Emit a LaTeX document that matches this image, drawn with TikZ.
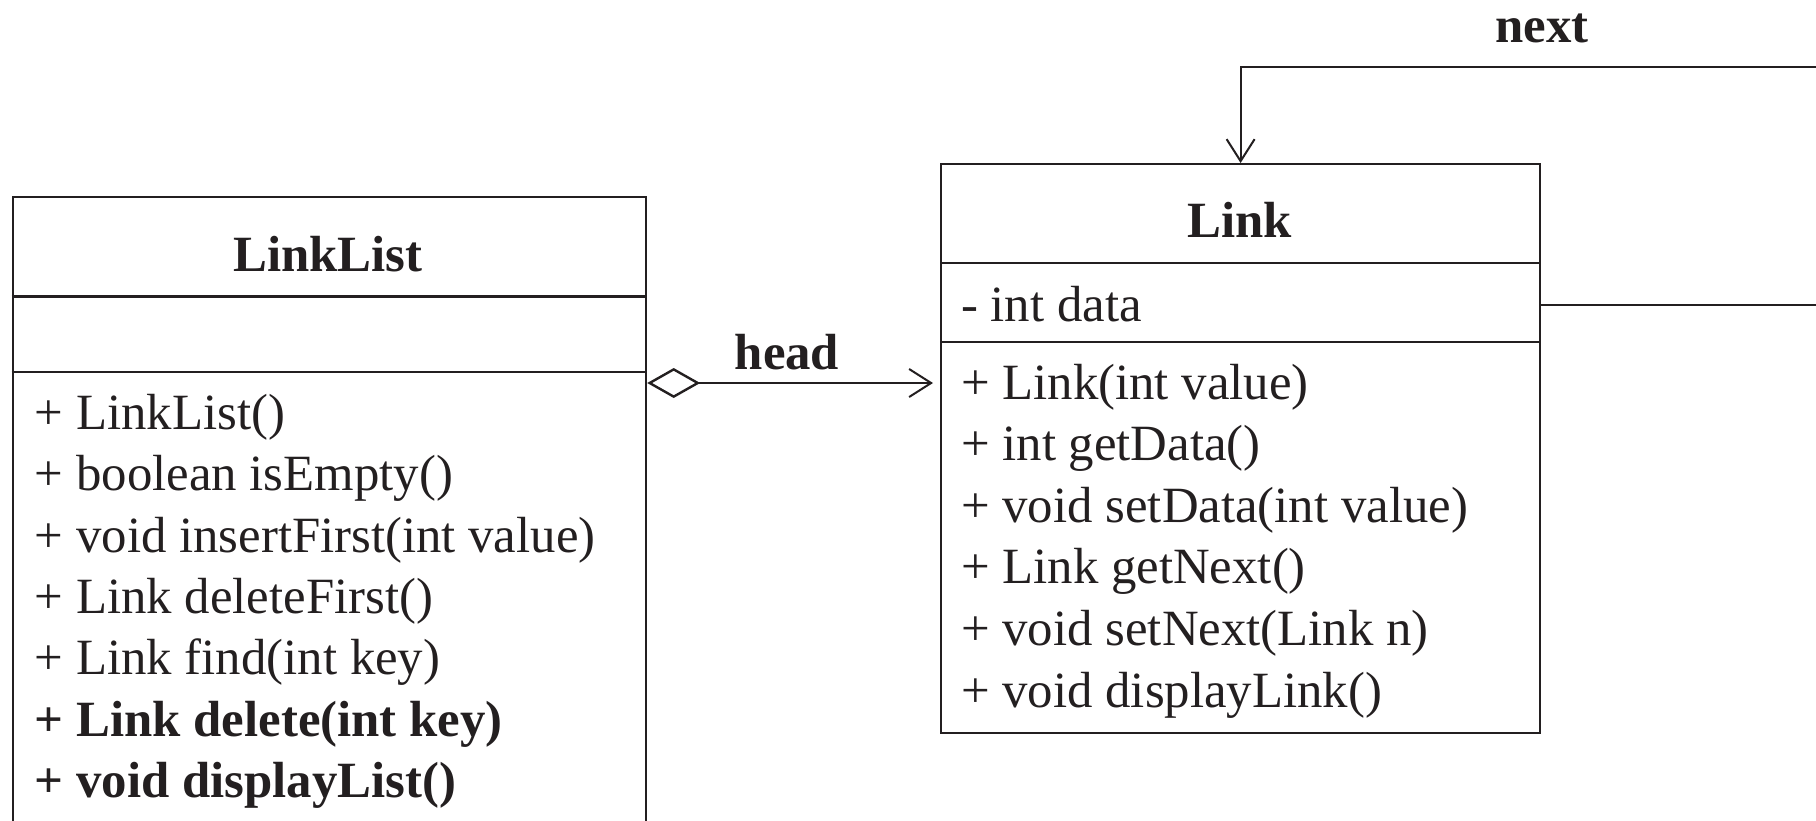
\documentclass[tikz,border=0pt]{standalone}
\usepackage{fontspec}
\setmainfont{Liberation Serif}
\usetikzlibrary{arrows.meta}
\definecolor{ink}{HTML}{231F20}
\begin{document}
\begin{tikzpicture}[x=1pt,y=-1pt,
  every node/.style={font=\fontsize{50.8}{60}\selectfont, text=ink, inner sep=0pt},
  classbox/.style={draw=ink, line width=2.2pt, anchor=north west, inner sep=0pt},
  divider/.style={draw=ink, line width=2.2pt},
  row/.style={anchor=base west},
  ttl/.style={anchor=base, font=\fontsize{50.8}{60}\selectfont\bfseries},
  conn/.style={draw=ink, line width=2pt},
  agg/.style={conn, {Diamond[open, length=53pt, width=30pt, line width=2.4pt]}-{Straight Barb[length=22pt, width=28pt, line width=2pt]}, shorten >=7pt},
  assoc/.style={conn, -{Straight Barb[length=22pt, width=28pt, line width=2pt]}}
]
\useasboundingbox (0,0) rectangle (1816,820);
\clip (0,0) rectangle (1816,820);

% LinkList class
\node[classbox, minimum width=633.4pt, minimum height=660pt] (ll) at (11.6,195.7) {};
\coordinate (lld1) at (0,296.5);
\coordinate (lld2) at (0,371.7);
\draw[divider] (ll.west |- lld1) -- (ll.east |- lld1);
\draw[divider] (ll.west |- lld2) -- (ll.east |- lld2);
\node[ttl] (lltitle) at (328,271) {LinkList};
\node[row] (ll1) at (34.7,429) {+ LinkList()};
\node[row] (ll2) at (34.7,490.5) {+ boolean isEmpty()};
\node[row] (ll3) at (34.7,552) {+ void insertFirst(int value)};
\node[row] (ll4) at (34.7,613.4) {+ Link deleteFirst()};
\node[row] (ll5) at (34.7,674.8) {+ Link find(int key)};
\node[row, font=\fontsize{50.8}{60}\selectfont\bfseries] (ll6) at (34.7,736.2) {+ Link delete(int key)};
\node[row, font=\fontsize{50.8}{60}\selectfont\bfseries] (ll7) at (34.7,797.6) {+ void displayList()};

% Link class
\node[classbox, minimum width=599pt, minimum height=569pt] (lk) at (940,163) {};
\coordinate (lkd1) at (0,263);
\coordinate (lkd2) at (0,341.6);
\draw[divider] (lk.west |- lkd1) -- (lk.east |- lkd1);
\draw[divider] (lk.west |- lkd2) -- (lk.east |- lkd2);
\node[ttl] (lktitle) at (1239.5,237) {Link};
\node[row] (lka) at (961,321.5) {- int data};
\node[row] (lk1) at (961,399) {+ Link(int value)};
\node[row] (lk2) at (961,460.6) {+ int getData()};
\node[row] (lk3) at (961,522.2) {+ void setData(int value)};
\node[row] (lk4) at (961,583.8) {+ Link getNext()};
\node[row] (lk5) at (961,645.4) {+ void setNext(Link n)};
\node[row] (lk6) at (961,707) {+ void displayLink()};

% head aggregation
\coordinate (hy) at (0,383);
\draw[agg] (ll.east |- hy) -- (lk.west |- hy);
\node[ttl] (head) at (787,369) {head};

% next self association
\coordinate (r1) at (1840,304.5);
\coordinate (r2) at (1840,67);
\draw[assoc] (lk.east |- r1) -- (r1) -- (r2) -- (lk.north |- r2) -- (lk.north);
\node[ttl] (next) at (1542,42) {next};
\end{tikzpicture}
\end{document}
